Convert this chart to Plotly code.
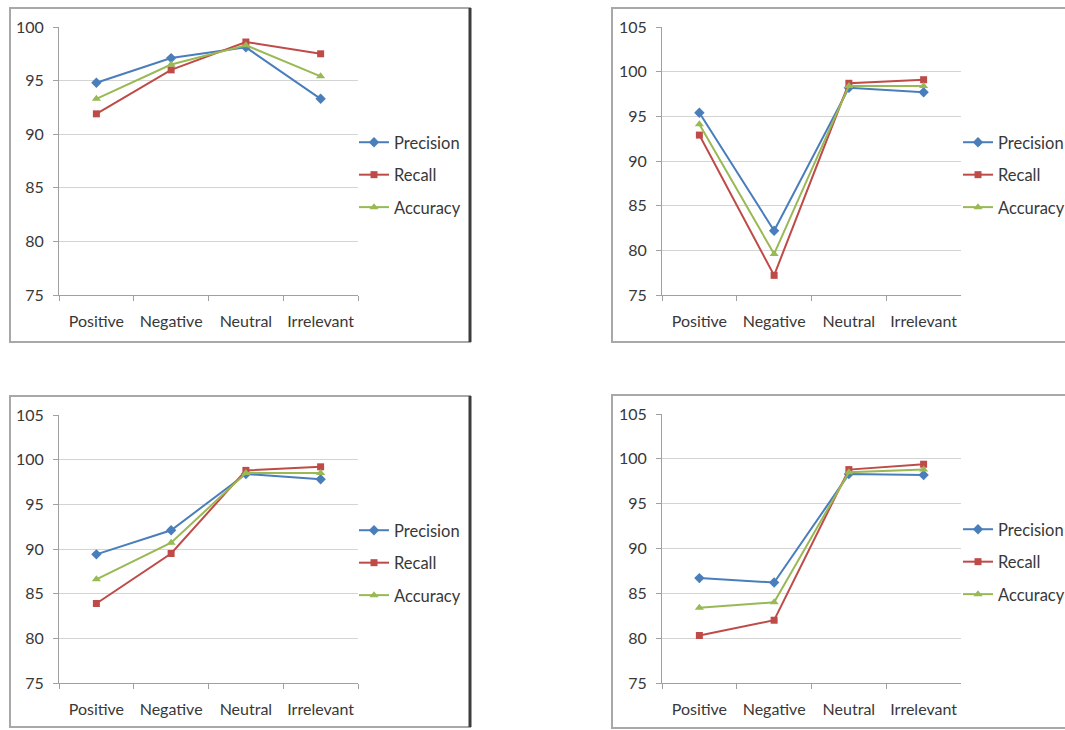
import plotly.graph_objects as go

W, H = 1065, 730

categories = ["Positive", "Negative", "Neutral", "Irrelevant"]

# panel 1 (top left)
p1_precision = [94.8, 97.1, 98.1, 93.3]
p1_recall = [91.9, 96.0, 98.6, 97.5]
p1_accuracy = [93.3, 96.5, 98.3, 95.4]

# panel 2 (top right)
p2_precision = [95.4, 82.2, 98.2, 97.7]
p2_recall = [92.9, 77.2, 98.7, 99.1]
p2_accuracy = [94.1, 79.6, 98.4, 98.4]

# panel 3 (bottom left)
p3_precision = [89.4, 92.1, 98.4, 97.8]
p3_recall = [83.9, 89.5, 98.8, 99.2]
p3_accuracy = [86.6, 90.7, 98.5, 98.5]

# panel 4 (bottom right)
p4_precision = [86.7, 86.2, 98.3, 98.2]
p4_recall = [80.3, 82.0, 98.8, 99.4]
p4_accuracy = [83.4, 84.0, 98.5, 98.8]

y_ranges = [(75, 100), (75, 105), (75, 105), (75, 105)]

panels = [
    (p1_precision, p1_recall, p1_accuracy),
    (p2_precision, p2_recall, p2_accuracy),
    (p3_precision, p3_recall, p3_accuracy),
    (p4_precision, p4_recall, p4_accuracy),
]

# plot-area boxes in pixels: (left, right, top, bottom)
boxes = [
    (59, 358, 27, 295),
    (662, 961, 27, 295),
    (59, 358, 415, 683),
    (662, 961, 414, 683),
]
# chart frames in pixels: (left, right, top, bottom)
frames = [
    (10, 470, 8, 342),
    (612, 1075, 8, 342),
    (10, 470, 396, 727),
    (612, 1075, 395, 728),
]
legend_pos = [(354, 175), (958, 175), (354, 563), (958, 562)]

series_style = [
    ("Precision", "#4A7EBB", "diamond", 8),
    ("Recall", "#BE4B48", "square", 7),
    ("Accuracy", "#98B954", "triangle-up", 8),
]

FONT = "Lato, 'Open Sans', sans-serif"
TEXT = "#383838"


def px_x(x):
    return x / W


def px_y(y):
    return 1 - y / H


fig = go.Figure()
layout = {}
shapes = []

for i, (vals, yr, box, frame, lp) in enumerate(zip(panels, y_ranges, boxes, frames, legend_pos)):
    n = "" if i == 0 else str(i + 1)
    legend_name = "legend" if i == 0 else f"legend{i + 1}"
    for (name, color, symbol, size), ys in zip(series_style, vals):
        fig.add_trace(go.Scatter(
            x=categories, y=ys, name=name,
            mode="lines+markers",
            line=dict(color=color, width=2),
            marker=dict(symbol=symbol, size=size, color=color),
            xaxis="x" + n, yaxis="y" + n,
            legend=legend_name, legendgroup=f"{i}-{name}",
        ))
    l, r, t, b = box
    layout["xaxis" + n] = dict(
        domain=[px_x(l), px_x(r)], anchor="y" + n,
        type="category", range=[-0.5, 3.5], automargin=False,
        tickson="boundaries", ticks="outside", ticklen=5, tickangle=0,
        tickcolor="#a0a0a0", showline=True, linecolor="#a0a0a0", linewidth=1,
        showgrid=False, zeroline=False, fixedrange=True,
        tickfont=dict(family=FONT, size=16, color=TEXT),
        ticklabelstandoff=12,
    )
    layout["yaxis" + n] = dict(
        domain=[px_y(b), px_y(t)], anchor="x" + n,
        range=list(yr), dtick=5, tick0=75, automargin=False,
        ticks="outside", ticklen=5, tickcolor="#a0a0a0",
        showline=True, linecolor="#a0a0a0", linewidth=1,
        showgrid=True, gridcolor="#d4d4d4", gridwidth=1, zeroline=False,
        fixedrange=True,
        tickfont=dict(family=FONT, size=16, color=TEXT),
        ticklabelstandoff=6,
    )
    layout[legend_name] = dict(
        x=px_x(lp[0]), y=px_y(lp[1]), xanchor="left", yanchor="middle",
        bgcolor="rgba(0,0,0,0)", borderwidth=0,
        font=dict(family=FONT, size=16.5, color=TEXT),
        itemwidth=30, tracegroupgap=8, traceorder="grouped",
    )
    fl, fr, ft, fb = frame
    shapes.append(dict(
        type="rect", xref="paper", yref="paper",
        x0=px_x(fl), x1=px_x(fr), y0=px_y(fb), y1=px_y(ft),
        line=dict(color="#a8a8a8", width=2), layer="below",
    ))
    if fr < W:
        shapes.append(dict(
            type="line", xref="paper", yref="paper",
            x0=px_x(fr), x1=px_x(fr), y0=px_y(fb), y1=px_y(ft),
            line=dict(color="#3c3c3c", width=3),
        ))

fig.update_layout(
    template="none",
    width=W, height=H,
    margin=dict(l=0, r=0, t=0, b=0, autoexpand=False),
    paper_bgcolor="white", plot_bgcolor="white",
    showlegend=True, shapes=shapes,
    **layout,
)

fig.write_html("out.html")
